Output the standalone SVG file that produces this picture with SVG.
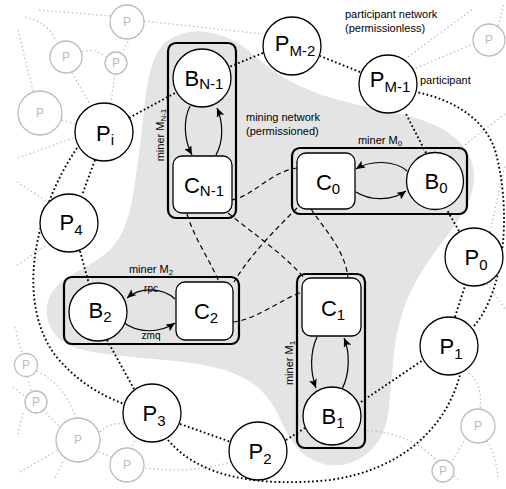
<svg xmlns="http://www.w3.org/2000/svg" width="506" height="489" viewBox="0 0 506 489">
<style>
text{font-family:"Liberation Sans",Arial,sans-serif}
.blob{fill:#e4e4e4;stroke:none}
.g{fill:none;stroke:#b8b8b8;stroke-width:1.2;stroke-dasharray:1.4 2.7}
.d{fill:none;stroke:#000;stroke-width:1.9;stroke-dasharray:1.7 2.5}
.k{fill:none;stroke:#000;stroke-width:1.2;stroke-dasharray:5 3.5}
.gp{fill:#fff;stroke:#bcbcbc;stroke-width:1.3}
.gt{fill:#bcbcbc;font-size:12px;text-anchor:middle}
.p{fill:#fff;stroke:#000;stroke-width:1.3}
.box{fill:none;stroke:#000;stroke-width:2.2}
.nt{font-size:22px;text-anchor:middle;fill:#000}
.sub{font-size:15px}
.lb{font-size:11px;fill:#000}
.ls{font-size:8px}
.arr{fill:none;stroke:#000;stroke-width:1.2;marker-end:url(#ah)}
</style>
<defs>
<marker id="ah" markerUnits="userSpaceOnUse" markerWidth="9" markerHeight="8" refX="9" refY="4" orient="auto">
<path d="M0,0 L9,4 L0,8 L2,4 Z" fill="#000"/>
</marker>
</defs>
<path class="blob" d="M192.5,31.5 Q205,30 222.5,36 Q240,42 255,56 Q270,70 290,81 Q310,92 335,99 Q360,106 385,110.5 Q410,115 431,123.5 Q452,132 463,146 Q474,160 474,176 Q474,192 466,207 Q458,222 445,238.5 Q432,255 421,272.5 Q410,290 402.5,312.5 Q395,335 393,362.5 Q391,390 388.5,411 Q386,432 375.5,445 Q365,458 350,463 Q335,468 320,463 Q305,458 296,446.5 Q287,435 279.5,417.5 Q272,400 258.5,388 Q245,376 222.5,369.5 Q200,363 165,360 Q130,357 105,354 Q80,351 66,343.5 Q52,336 48,321 Q44,306 51,294 Q58,282 73,274 Q88,266 101.5,257 Q115,248 122.5,231.5 Q130,215 133.5,192.5 Q137,170 140,145 Q143,120 145.5,97.5 Q148,75 154,60 Q160,45 170,39 Q180,33 192.5,31.5 Z"/>
<g id="connectors">
<g id="gray-links">
<path class="g" d="M39,10 L110,16"/>
<path class="g" d="M144,21 L263,34"/>
<path class="g" d="M130,38 L123,52"/>
<path class="g" d="M82,52 Q95,47 105,57"/>
<path class="g" d="M25,17 Q48,22 56,41"/>
<path class="g" d="M18,30 L33,91"/>
<path class="g" d="M72,73 L90,104"/>
<path class="g" d="M115,74 L111,103"/>
<path class="g" d="M62,120 L76,124"/>
<path class="g" d="M18,158 L76,137"/>
<path class="g" d="M17,182 L48,202"/>
<path class="g" d="M17,265 L47,245"/>
<path class="g" d="M15,327 L22,354"/>
<path class="g" d="M37,371 Q65,385 76,418"/>
<path class="g" d="M28,377 L31,391"/>
<path class="g" d="M13,387 L26,397"/>
<path class="g" d="M23,413 L17,437"/>
<path class="g" d="M43,410 L60,427"/>
<path class="g" d="M20,472 L58,450"/>
<path class="g" d="M63,462 L55,478"/>
<path class="g" d="M100,432 Q110,422 124,424"/>
<path class="g" d="M95,450 L113,458"/>
<path class="g" d="M145,468 Q190,474 231,462"/>
<path class="g" d="M135,441 L131,448"/>
<path class="g" d="M363,430 Q410,432 437,461"/>
<path class="g" d="M469,373 Q483,385 480,409"/>
<path class="g" d="M466,438 L451,463"/>
<path class="g" d="M487,441 Q496,455 498,478"/>
<path class="g" d="M454,476 L460,481"/>
<path class="g" d="M487,284 L506,310"/>
<path class="g" d="M452,155 L506,113"/>
<path class="g" d="M490,232 L505,165"/>
<path class="g" d="M408,57 L474,8"/>
<path class="g" d="M416,68 L473,44"/>
<path class="g" d="M498,26 L504,4"/>
</g>
<g id="participant-links">
<path class="d" d="M77,148 C35,210 15,300 55,355 C75,380 100,395 124,404"/>
<path class="d" d="M168,440 C200,478 260,487 330,480 C400,470 445,430 460,375"/>
<path class="d" d="M474,326 C505,290 512,210 495,150 C485,120 455,100 416,92"/>
<path class="d" d="M129,118 L177,92"/>
<path class="d" d="M95,160 L82,195"/>
<path class="d" d="M80,251 L89,284"/>
<path class="d" d="M107,340 L134,389"/>
<path class="d" d="M180,424 L231,442"/>
<path class="d" d="M286,440 L305,428"/>
<path class="d" d="M361,402 L423,360"/>
<path class="d" d="M455,317 L465,286"/>
<path class="d" d="M459,231 L447,210"/>
<path class="d" d="M426,153 L405,112"/>
<path class="d" d="M360,72 L320,56"/>
<path class="d" d="M263,53 L229,67"/>
</g>
<g id="mining-links">
<path class="k" d="M232,200 C255,195 270,172 297,168"/>
<path class="k" d="M187,214 C195,240 210,260 219,282"/>
<path class="k" d="M228,213 C255,235 285,255 304,278"/>
<path class="k" d="M297,208 C275,230 250,255 234,282"/>
<path class="k" d="M311,209 C325,230 345,250 348,278"/>
<path class="k" d="M233,322 C255,320 280,300 302,292"/>
</g>
<g id="miner-arrows">
<path class="arr" d="M190,106 C183,120 184,140 192,155"/>
<path class="arr" d="M216,155 C224,140 223,122 217,108"/>
<path class="arr" d="M407,171 C395,160 370,160 356,169"/>
<path class="arr" d="M356,192 C370,201 392,201 406,191"/>
<path class="arr" d="M175,299 C162,287 140,287 127,298"/>
<path class="arr" d="M123,322 C138,334 160,333 175,323"/>
<path class="arr" d="M317,337 C310,352 310,372 316,388"/>
<path class="arr" d="M342,389 C350,374 350,352 344,338"/>
</g>
</g>
<g id="gray-participants">
<circle class="gp" cx="127" cy="22" r="17"/><text class="gt" x="127" y="26">P</text>
<circle class="gp" cx="66" cy="57" r="16"/><text class="gt" x="66" y="61">P</text>
<circle class="gp" cx="116" cy="63" r="11"/><text class="gt" x="116" y="67">P</text>
<circle class="gp" cx="40" cy="113" r="22"/><text class="gt" x="40" y="117">P</text>
<circle class="gp" cx="489" cy="40" r="16"/><text class="gt" x="489" y="44">P</text>
<circle class="gp" cx="26" cy="365" r="11.5"/><text class="gt" x="26" y="369">P</text>
<circle class="gp" cx="36" cy="402" r="11"/><text class="gt" x="36" y="406">P</text>
<circle class="gp" cx="78" cy="440" r="22"/><text class="gt" x="78" y="444">P</text>
<circle class="gp" cx="127" cy="465" r="17"/><text class="gt" x="127" y="469">P</text>
<circle class="gp" cx="478" cy="426" r="17"/><text class="gt" x="478" y="430">P</text>
<circle class="gp" cx="443" cy="471" r="11"/><text class="gt" x="443" y="475">P</text>
</g>
<g id="miner-MN-1">
<rect class="box" x="168" y="43" width="68" height="175" rx="8"/>
<text class="lb" transform="translate(164,135) rotate(-90)" text-anchor="middle">miner M<tspan class="ls" dy="1.5">N-1</tspan></text>
</g>
<g id="miner-M0">
<rect class="box" x="292" y="148" width="175" height="66" rx="8"/>
<text class="lb" x="380" y="144" text-anchor="middle">miner M<tspan class="ls" dy="2">0</tspan></text>
</g>
<g id="miner-M2">
<rect class="box" x="64" y="277" width="175" height="67" rx="8"/>
<text class="lb" x="151" y="273" text-anchor="middle">miner M<tspan class="ls" dy="2">2</tspan></text>
<text x="151" y="292" font-size="10" text-anchor="middle">rpc</text>
<text x="151" y="339" font-size="10" text-anchor="middle">zmq</text>
</g>
<g id="miner-M1">
<rect class="box" x="297" y="274" width="68" height="174" rx="8"/>
<text class="lb" transform="translate(293,363) rotate(-90)" text-anchor="middle">miner M<tspan class="ls" dy="1.5">1</tspan></text>
</g>
<g id="BN-1"><circle class="p" cx="202" cy="78" r="29"/><text class="nt" x="204" y="86">B<tspan class="sub" dy="3">N-1</tspan></text></g>
<g id="CN-1"><rect class="p" x="173" y="156" width="59" height="57" rx="9"/><text class="nt" x="204" y="193">C<tspan class="sub" dy="3">N-1</tspan></text></g>
<g id="C0"><rect class="p" x="297" y="153" width="58" height="56" rx="9"/><text class="nt" x="328" y="190">C<tspan class="sub" dy="4">0</tspan></text></g>
<g id="B0"><circle class="p" cx="435" cy="181" r="28.5"/><text class="nt" x="436" y="189">B<tspan class="sub" dy="4">0</tspan></text></g>
<g id="B2"><circle class="p" cx="98" cy="312" r="29"/><text class="nt" x="100" y="318">B<tspan class="sub" dy="4">2</tspan></text></g>
<g id="C2"><rect class="p" x="176" y="282" width="57" height="58" rx="9"/><text class="nt" x="206" y="319">C<tspan class="sub" dy="4">2</tspan></text></g>
<g id="C1"><rect class="p" x="302" y="278" width="59" height="58" rx="9"/><text class="nt" x="333" y="316">C<tspan class="sub" dy="4">1</tspan></text></g>
<g id="B1"><circle class="p" cx="332" cy="416" r="29"/><text class="nt" x="333" y="424">B<tspan class="sub" dy="4">1</tspan></text></g>
<g id="Pi"><circle class="p" cx="104" cy="132" r="29"/><text class="nt" x="105" y="141">P<tspan class="sub" dy="4">i</tspan></text></g>
<g id="P4"><circle class="p" cx="69" cy="223" r="29"/><text class="nt" x="71" y="230">P<tspan class="sub" dy="5">4</tspan></text></g>
<g id="P3"><circle class="p" cx="152" cy="413" r="29"/><text class="nt" x="154" y="421">P<tspan class="sub" dy="5">3</tspan></text></g>
<g id="P2"><circle class="p" cx="258" cy="451" r="29"/><text class="nt" x="260" y="459">P<tspan class="sub" dy="5">2</tspan></text></g>
<g id="P1"><circle class="p" cx="449" cy="346" r="29"/><text class="nt" x="451" y="354">P<tspan class="sub" dy="5">1</tspan></text></g>
<g id="P0"><circle class="p" cx="474" cy="257" r="29"/><text class="nt" x="476" y="265">P<tspan class="sub" dy="5">0</tspan></text></g>
<g id="PM-1"><circle class="p" cx="388" cy="84" r="29"/><text class="nt" x="390" y="87">P<tspan class="sub" dy="5">M-1</tspan></text></g>
<g id="PM-2"><circle class="p" cx="292" cy="46" r="29"/><text class="nt" x="295" y="51">P<tspan class="sub" dy="5">M-2</tspan></text></g>
<g id="labels">
<text class="lb" x="345" y="18">participant network</text>
<text class="lb" x="345" y="32">(permissionless)</text>
<text class="lb" x="420" y="84">participant</text>
<text class="lb" x="246" y="121">mining network</text>
<text class="lb" x="246" y="135">(permissioned)</text>
</g>
</svg>
